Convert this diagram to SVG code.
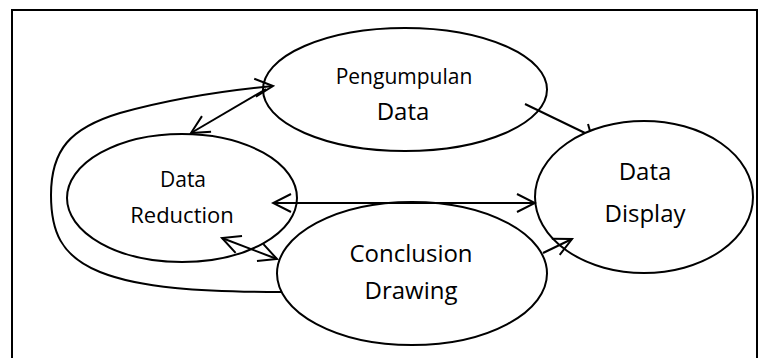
<svg xmlns="http://www.w3.org/2000/svg" width="759" height="358" viewBox="0 0 759 358">
  <style>
    .node ellipse { fill: #ffffff; stroke: #000000; stroke-width: 2; }
    .node text { font-family: "Open Sans", "Noto Sans", sans-serif; fill: #000000; text-anchor: middle; }
    .edge { fill: none; stroke: #000000; stroke-width: 2; }
    .frame { fill: none; stroke: #000000; stroke-width: 2; }
  </style>
  <defs>
    <marker id="arrow" markerUnits="userSpaceOnUse" viewBox="-20 -12 22 24" markerWidth="22" markerHeight="24" refX="0" refY="0" orient="auto-start-reverse">
      <path d="M-18,-9 L0,0 L-18,9" fill="none" stroke="#000000" stroke-width="2"/>
    </marker>
  </defs>

  <rect width="759" height="358" fill="#ffffff"/>
  <path class="frame" d="M12,358 V10 H757 V358"/>

  <g id="pengumpulan-data" class="node">
    <ellipse cx="405" cy="89.5" rx="142" ry="61.5"/>
    <text x="404" y="84" font-size="21">Pengumpulan</text>
    <text x="403" y="120" font-size="24">Data</text>
  </g>

  <g id="data-reduction" class="node">
    <ellipse cx="182" cy="198" rx="115" ry="64"/>
    <text x="183" y="187" font-size="21">Data</text>
    <text x="182" y="223" font-size="22">Reduction</text>
  </g>

  <g id="data-display" class="node">
    <ellipse cx="644" cy="197" rx="109" ry="76"/>
    <text x="645" y="180" font-size="24">Data</text>
    <text x="645" y="222" font-size="24">Display</text>
  </g>

  <g id="conclusion-drawing" class="node">
    <ellipse cx="412" cy="273.5" rx="135" ry="71.5"/>
    <text x="411" y="262" font-size="24">Conclusion</text>
    <text x="411" y="299" font-size="24">Drawing</text>
  </g>

  <g id="connectors">
    <!-- feedback loop from Conclusion Drawing back to Pengumpulan Data -->
    <path class="edge" d="M281,292 C200,292 140,288 100,272 C60,256 51,230 51,195 C51,150 70,128 120,113 C170,99 220,91 273,86" marker-end="url(#arrow)"/>
    <!-- Pengumpulan Data to Data Reduction -->
    <path class="edge" d="M266,89 L191,133" marker-end="url(#arrow)"/>
    <!-- Data Reduction and Data Display -->
    <path class="edge" d="M273,203 L535,203" marker-start="url(#arrow)" marker-end="url(#arrow)"/>
    <!-- Data Reduction and Conclusion Drawing -->
    <path class="edge" d="M222,238 L277,259" marker-start="url(#arrow)" marker-end="url(#arrow)"/>
    <!-- Conclusion Drawing to Data Display -->
    <path class="edge" d="M543,253 L572,239" marker-end="url(#arrow)"/>
    <!-- Pengumpulan Data to Data Display -->
    <path class="edge" d="M525,104 L585,133"/>
    <path class="edge" d="M588,124 L590,131"/>
  </g>
</svg>
